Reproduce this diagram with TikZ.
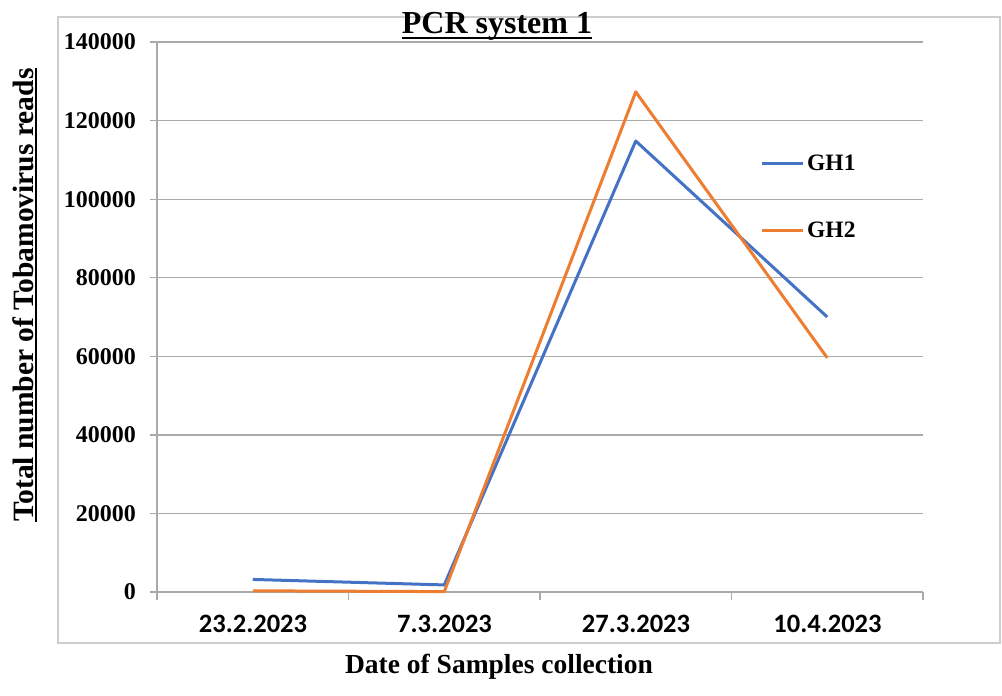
\documentclass[tikz,border=0pt]{standalone}
\usepackage{fontspec}
\setmainfont{Liberation Serif}
\newfontfamily\calib{Carlito}
\usetikzlibrary{calc}
\definecolor{gh1}{HTML}{4472C4}
\definecolor{gh2}{HTML}{ED7D31}
\definecolor{gridc}{RGB}{170,170,170}
\definecolor{framec}{RGB}{205,205,205}
\begin{document}
\begin{tikzpicture}[x=1pt,y=-1pt,
  gridline/.style={draw=gridc,line width=1.3pt},
  frameline/.style={draw=framec,line width=1.5pt},
  serieshone/.style={draw=gh1,line width=3pt,line join=round},
  seriestwo/.style={draw=gh2,line width=3pt,line join=round},
  ticklab/.style={anchor=east,inner sep=0pt,font=\bfseries\fontsize{24}{28}\selectfont},
  catlab/.style={anchor=base,inner sep=0pt,font=\calib\bfseries\fontsize{26.5}{30}\selectfont},
  leglab/.style={anchor=west,inner sep=0pt,font=\bfseries\fontsize{23.5}{28}\selectfont},
]
\useasboundingbox (0,0) rectangle (1002,696);
% chart frame
\draw[frameline] (58,17) rectangle (1000,643);
% gridlines and y ticks
\foreach \v/\t in {0/0,1/20000,2/40000,3/60000,4/80000,5/100000,6/120000,7/140000}{
  \draw[gridline] (150,{592-\v*78.57}) -- (923,{592-\v*78.57});
  \node[ticklab] (yt\v) at (136,{592-\v*78.57}) {\t};
}
% axes
\draw[gridline] (157,{592-7*78.57}) -- (157,600);
\foreach \i/\x in {1/348.5,2/540,3/731.5,4/923}{
  \draw[gridline] (\x,592) -- (\x,600);
}
% category labels
\node[catlab] (c1) at (253,632) {23.2.2023};
\node[catlab] (c2) at (444.5,632) {7.3.2023};
\node[catlab] (c3) at (636,632) {27.3.2023};
\node[catlab] (c4) at (827.5,632) {10.4.2023};
% data coordinates (values in thousands)
\def\yy#1{592-#1*3.9286}
\coordinate (a1) at (252.75,{\yy{3.2}});
\coordinate (a2) at (444.25,{\yy{1.8}});
\coordinate (a3) at (635.75,{\yy{114.8}});
\coordinate (a4) at (827.25,{\yy{70.0}});
\coordinate (b1) at (252.75,{\yy{0.3}});
\coordinate (b2) at (444.25,{\yy{0.1}});
\coordinate (b3) at (635.75,{\yy{127.3}});
\coordinate (b4) at (827.25,{\yy{59.6}});
\draw[serieshone] (a1) -- (a2) -- (a3) -- (a4);
\draw[seriestwo] (b1) -- (b2) -- (b3) -- (b4);
% legend
\coordinate (l1a) at (762,163);
\coordinate (l1b) at (803,163);
\draw[serieshone] (l1a) -- (l1b);
\node[leglab] (lg1) at (807,163) {GH1};
\coordinate (l2a) at (762,230);
\coordinate (l2b) at (803,230);
\draw[seriestwo] (l2a) -- (l2b);
\node[leglab] (lg2) at (807,230) {GH2};
% titles
\node[anchor=base,inner sep=0pt,font=\bfseries\fontsize{32}{36}\selectfont] (title) at (497,33) {PCR system 1};
\draw[line width=2pt] ($(title.base west)+(0,5)$) -- ($(title.base east)+(0,5)$);
\node[anchor=base,inner sep=0pt,font=\bfseries\fontsize{27.5}{32}\selectfont] (xtitle) at (499,673) {Date of Samples collection};
\node[anchor=base,inner sep=0pt,rotate=90,font=\bfseries\fontsize{29.5}{34}\selectfont] (ylab) at (33,295) {Total number of Tobamovirus reads};
\draw[line width=2pt] ($(ylab.base west)+(3,0)$) -- ($(ylab.base east)+(3,0)$);
\end{tikzpicture}
\end{document}
